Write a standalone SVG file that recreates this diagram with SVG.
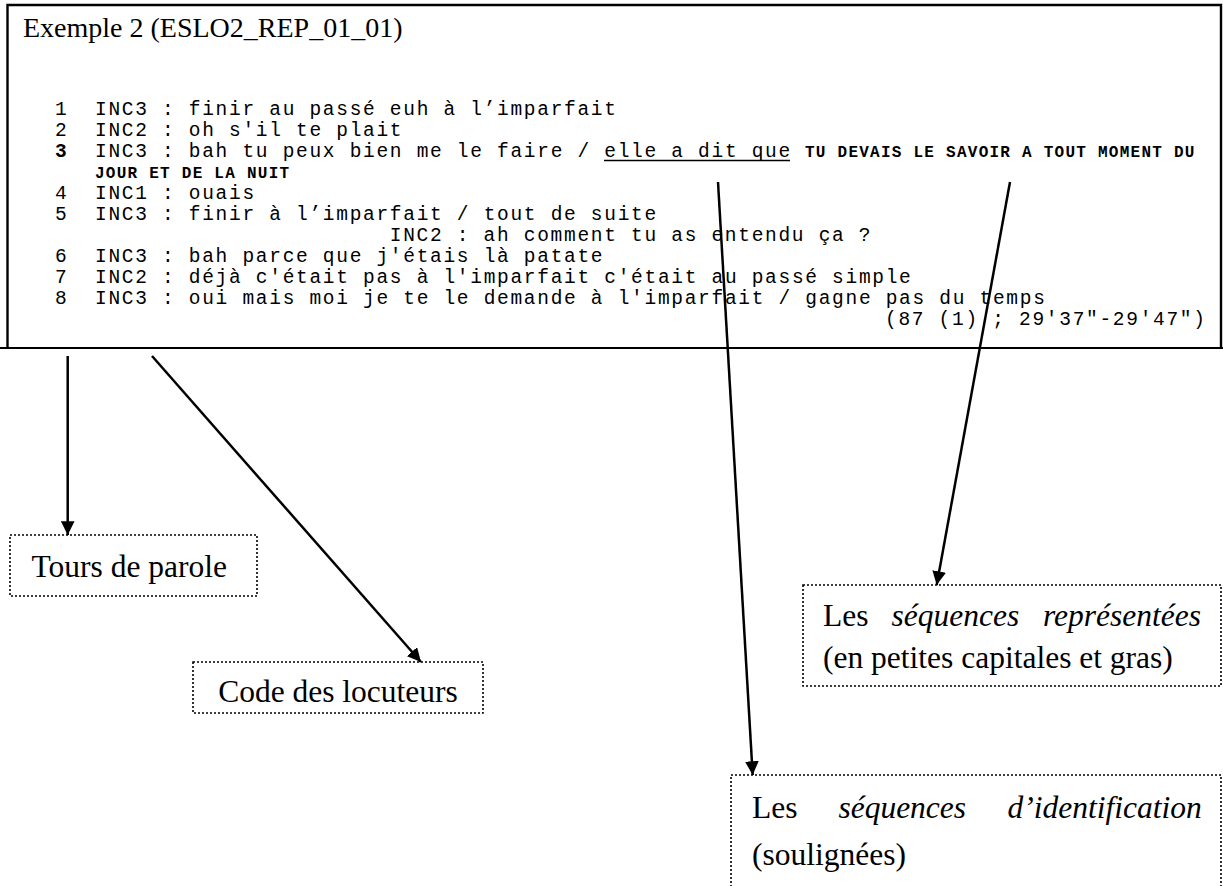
<svg xmlns="http://www.w3.org/2000/svg" width="1223" height="886" viewBox="0 0 1223 886">
<defs>
<style>
.t{font-family:"Liberation Serif","Times New Roman",serif;fill:#000}
.m{font-family:"Liberation Mono","Courier New",monospace;font-size:19.5px;letter-spacing:1.7px;fill:#000;white-space:pre}
.b{font-family:"Liberation Mono","Courier New",monospace;font-size:16px;letter-spacing:1.25px;font-weight:bold;fill:#000;white-space:pre}
.lbl{font-family:"Liberation Serif","Times New Roman",serif;font-size:31.5px;fill:#000}
.it{font-style:italic}
.box{fill:none;stroke:#000;stroke-width:1.6;stroke-dasharray:2 2}
.conn{stroke:#000;stroke-width:2.5;fill:none}
</style>
<marker id="ah" viewBox="0 0 10 10" refX="10" refY="5" markerWidth="5.5" markerHeight="5.5" markerUnits="strokeWidth" orient="auto">
<path d="M0,0 L10,5 L0,10 z" fill="#000"/>
</marker>
</defs>
<rect width="1223" height="886" fill="#fff"/>
<g id="example-box">
<path d="M7.5,348 V5 H1221 V348" fill="none" stroke="#000" stroke-width="2.4"/>
<line x1="0" y1="348" x2="1223" y2="348" stroke="#000" stroke-width="2.2"/>
<text class="t" x="23" y="37" font-size="28">Exemple 2 (ESLO2_REP_01_01)</text>
<text class="m" x="55" y="115">1</text><text class="m" x="95" y="115">INC3 : finir au passé euh à l’imparfait</text>
<text class="m" x="55" y="136">2</text><text class="m" x="95" y="136">INC2 : oh s'il te plait</text>
<text class="m" x="55" y="157" font-weight="bold">3</text><text class="m" x="95" y="157">INC3 : bah tu peux bien me le faire / elle a dit que</text>
<line x1="604" y1="160.5" x2="790" y2="160.5" stroke="#000" stroke-width="1.5"/>
<text class="b" x="805" y="157">TU DEVAIS LE SAVOIR A TOUT MOMENT DU</text>
<text class="b" x="95" y="178">JOUR ET DE LA NUIT</text>
<text class="m" x="55" y="199">4</text><text class="m" x="95" y="199">INC1 : ouais</text>
<text class="m" x="55" y="220">5</text><text class="m" x="95" y="220">INC3 : finir à l’imparfait / tout de suite</text>
<text class="m" x="389.8" y="241">INC2 : ah comment tu as entendu ça ?</text>
<text class="m" x="55" y="262">6</text><text class="m" x="95" y="262">INC3 : bah parce que j'étais là patate</text>
<text class="m" x="55" y="283">7</text><text class="m" x="95" y="283">INC2 : déjà c'était pas à l'imparfait c'était au passé simple</text>
<text class="m" x="55" y="304">8</text><text class="m" x="95" y="304">INC3 : oui mais moi je te le demande à l'imparfait / gagne pas du temps</text>
<text class="m" x="885" y="325">(87 (1) ; 29'37"-29'47")</text>
</g>
<g id="connectors">
<line class="conn" x1="67.7" y1="356" x2="67.7" y2="535" marker-end="url(#ah)"/>
<line class="conn" x1="152" y1="356" x2="421" y2="662" marker-end="url(#ah)"/>
<line class="conn" x1="718" y1="182" x2="752.7" y2="775" marker-end="url(#ah)"/>
<line class="conn" x1="1010" y1="182" x2="936.7" y2="585" marker-end="url(#ah)"/>
</g>
<g id="tours-de-parole">
<rect class="box" x="10" y="535" width="247" height="61"/>
<text class="lbl" x="31.5" y="577">Tours de parole</text>
</g>
<g id="code-des-locuteurs">
<rect class="box" x="193" y="662" width="290" height="51"/>
<text class="lbl" x="338" y="702" text-anchor="middle">Code des locuteurs</text>
</g>
<g id="sequences-representees">
<rect class="box" x="803" y="585" width="418" height="101"/>
<text class="lbl" y="626"><tspan x="823">Les</tspan><tspan class="it" x="891.5">séquences</tspan><tspan class="it" x="1201" text-anchor="end">représentées</tspan></text>
<text class="lbl" x="823" y="668">(en petites capitales et gras)</text>
</g>
<g id="sequences-identification">
<rect class="box" x="731" y="775" width="490" height="130"/>
<text class="lbl" y="818"><tspan x="752">Les</tspan><tspan class="it" x="838.4">séquences</tspan><tspan class="it" x="1201.7" text-anchor="end">d’identification</tspan></text>
<text class="lbl" x="752" y="865">(soulignées)</text>
</g>
</svg>
